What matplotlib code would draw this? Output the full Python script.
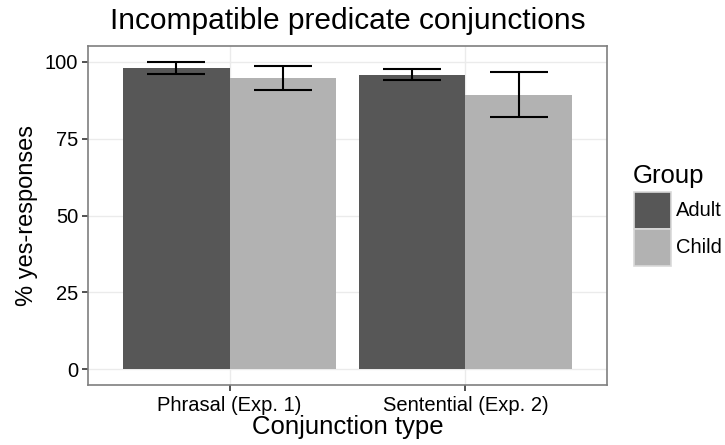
import matplotlib
matplotlib.use("Agg")
import matplotlib.pyplot as plt
from matplotlib.patches import Rectangle
import numpy as np

plt.rcParams['font.family'] = ['Liberation Sans', 'DejaVu Sans']

categories = ["Phrasal (Exp. 1)", "Sentential (Exp. 2)"]
groups = ["Adult", "Child"]
means = {"Adult": [98.0, 95.8], "Child": [94.8, 89.3]}
err_low = {"Adult": [96.0, 94.1], "Child": [90.8, 82.0]}
err_high = {"Adult": [100.0, 97.7], "Child": [98.7, 96.6]}
colors = {"Adult": "#575757", "Child": "#B2B2B2"}
yticks = [0, 25, 50, 75, 100]
title = "Incompatible predicate conjunctions"
xlabel = "Conjunction type"
ylabel = "% yes-responses"
legend_title = "Group"

fig = plt.figure(figsize=(7.25, 4.45), dpi=100)
W, H = 725, 445
left, right, top, bottom = 88, 607, 46, 385
ax = fig.add_axes([left / W, 1 - bottom / H, (right - left) / W, (bottom - top) / H])

x = np.arange(1, len(categories) + 1)
bw = 0.45
for i, g in enumerate(groups):
    xs = x + (i - 0.5) * bw
    ax.bar(xs, means[g], width=bw, color=colors[g], zorder=2)
    m = np.array(means[g])
    lo = m - np.array(err_low[g])
    hi = np.array(err_high[g]) - m
    ax.errorbar(xs, m, yerr=[lo, hi], fmt='none', ecolor='black',
                elinewidth=1.5, capsize=21, capthick=1.5, zorder=3)

ax.set_xlim(0.4, 2.6)
ax.set_ylim(-5.2, 105.2)
ax.set_xticks(x)
ax.set_xticklabels(categories, fontsize=14.5)
ax.set_yticks(yticks)
ax.set_yticklabels([str(v) for v in yticks], fontsize=14.5)
ax.grid(True, color="#EBEBEB", linewidth=1.0, zorder=0)
ax.set_axisbelow(True)
for s in ax.spines.values():
    s.set_color("#7F7F7F")
    s.set_linewidth(1.2)
ax.tick_params(axis='x', length=4, width=1.2, color='#333333', pad=4, labelcolor='black')
ax.tick_params(axis='y', length=4, width=1.2, color='#333333', pad=3, labelcolor='black')

ax.set_xlabel(xlabel, fontsize=18.5, labelpad=0)
ax.set_ylabel(ylabel, fontsize=17, labelpad=5)
fig.text((left + right) / 2 / W, 1 - 21 / H, title, fontsize=21.5, ha='center', va='center')

# legend
fig.text(633 / W, 1 - 176 / H, legend_title, fontsize=18.5, ha='left', va='center')
ky = [192, 229]
for g, y0 in zip(groups, ky):
    fig.add_artist(Rectangle((634 / W, 1 - (y0 + 37) / H), 37 / W, 37 / H,
                             transform=fig.transFigure, facecolor=colors[g],
                             edgecolor="#D9D9D9", linewidth=1.2))
    fig.text(676 / W, 1 - (y0 + 18.5) / H, g, fontsize=14.5, ha='left', va='center')

fig.savefig("out.png", dpi=100)
